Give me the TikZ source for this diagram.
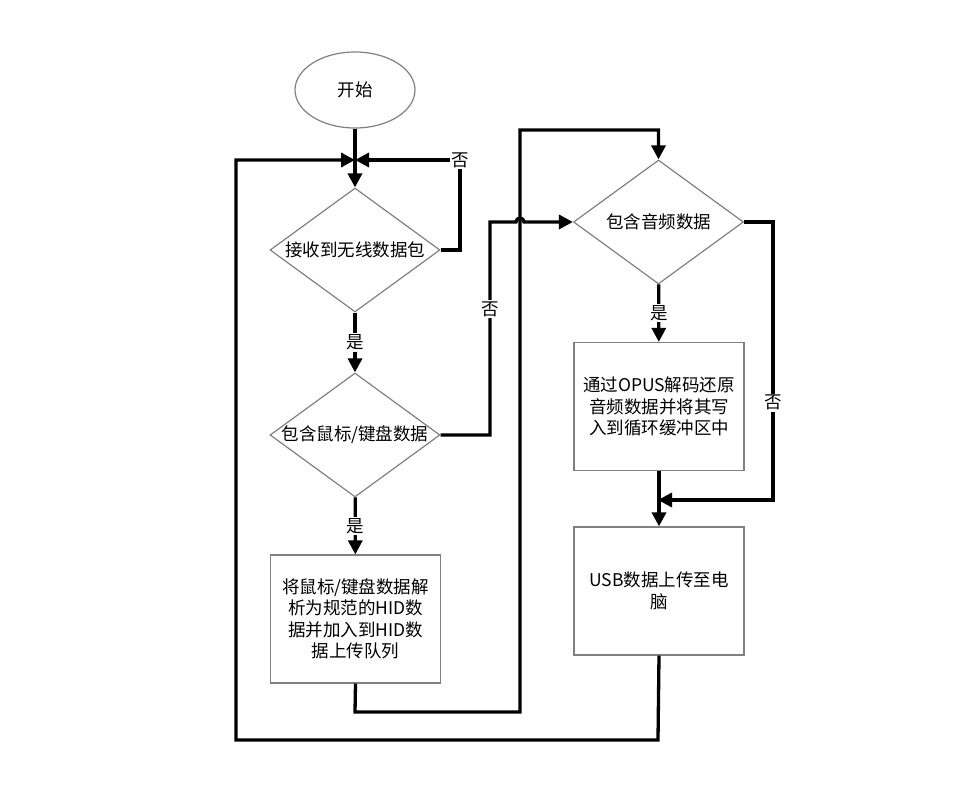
\documentclass[tikz,border=0pt]{standalone}
\usepackage{fontspec}
\newfontfamily\cjk{Noto Sans CJK SC}
\usetikzlibrary{shapes.geometric,arrows.meta}

\begin{document}
\begin{tikzpicture}[x=1pt,y=-1pt,
    font=\cjk\fontsize{17.5}{21.5}\selectfont,
    term/.style={ellipse,draw=gray,line width=1.2pt,minimum width=120pt,minimum height=76pt,inner sep=0},
    dec/.style={diamond,draw=gray,line width=1.2pt,minimum width=170pt,minimum height=124pt,inner sep=0},
    proc/.style={rectangle,draw=gray,line width=1.2pt,minimum width=170pt,minimum height=128pt,align=center},
    link/.style={line width=3.3pt},
    flow/.style={link,-{Triangle[length=14pt,width=14pt]}},
    lbl/.style={fill=white,inner sep=1.5pt}]
    \useasboundingbox (0,0) rectangle (959,791);
    \node[term] (s) at (355,90) {开始};
    \node[dec,label=center:{接收到无线数据包}] (d1) at (355,250) {};
    \node[dec,label=center:{包含鼠标/键盘数据}] (d2) at (355,435) {};
    \node[proc] (b1) at (355.5,619) {将鼠标/键盘数据解\\析为规范的HID数\\据并加入到HID数\\据上传队列};
    \node[dec,label=center:{包含音频数据}] (d3) at (658.5,222) {};
    \node[proc] (b2) at (659,406.5) {通过OPUS解码还原\\音频数据并将其写\\入到循环缓冲区中};
    \node[proc] (b3) at (659,591) {USB数据上传至电\\脑};
    \coordinate (m) at (355,160);
    \coordinate (j) at (658,500);
    % main column
    \draw[flow] (s) -- (m) -- (d1);
    \draw[flow] (d1) -- (d2) node[lbl,midway] (y1) {是};
    \draw[flow] (d2) -- (b1) node[lbl,midway] (y2) {是};
    \draw[flow] (d3) -- (b2) node[lbl,midway] (y3) {是};
    \draw[flow] (b2) -- (b3);
    % loops
    \draw[flow] (d1.east) -- (460,250) -- (460,160) node[lbl] (n1) {否} -- (m);
    \draw[flow] (d2.east) -- (490,435) -- node[lbl,pos=0.59] (n2) {否} (490,222) -- (516,222)
        arc[start angle=180,end angle=0,radius=4pt] -- (d3.west);
    \draw[flow] (b1.south) -- (355,712) -- (520,712) -- (520,130) -- (658.5,130) -- (d3.north);
    \draw[flow] (d3.east) -- (773,222) -- node[lbl,pos=0.65] (n3) {否} (773,500) -- (j);
    \draw[flow] (b3.south) -- (658,740) -- (236,740) -- (236,160) -- (m);
\end{tikzpicture}
\end{document}
